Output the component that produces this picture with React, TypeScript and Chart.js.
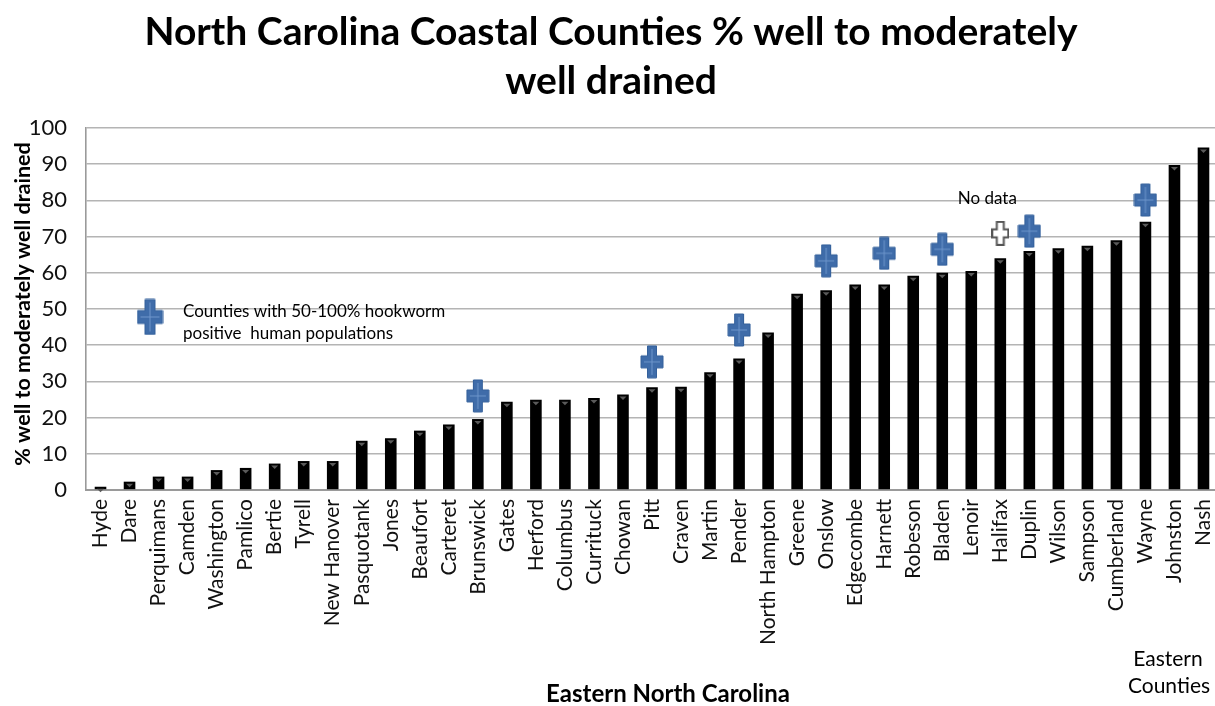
import React, { useEffect, useRef } from 'react';
import { Chart, registerables } from 'chart.js';

Chart.register(...registerables);

const counties = [
  'Hyde', 'Dare', 'Perquimans', 'Camden', 'Washington', 'Pamlico', 'Bertie', 'Tyrell',
  'New Hanover', 'Pasquotank', 'Jones', 'Beaufort', 'Carteret', 'Brunswick', 'Gates',
  'Herford', 'Columbus', 'Currituck', 'Chowan', 'Pitt', 'Craven', 'Martin', 'Pender',
  'North Hampton', 'Greene', 'Onslow', 'Edgecombe', 'Harnett', 'Robeson', 'Bladen',
  'Lenoir', 'Halifax', 'Duplin', 'Wilson', 'Sampson', 'Cumberland', 'Wayne', 'Johnston', 'Nash',
];
const drainedPct = [
  0.9, 2.3, 3.7, 3.7, 5.5, 6.1, 7.3, 8.0,
  8.0, 13.6, 14.3, 16.4, 18.1, 19.6, 24.4,
  24.9, 24.9, 25.4, 26.4, 28.4, 28.5, 32.5, 36.3,
  43.5, 54.2, 55.2, 56.8, 56.8, 59.2, 60.0,
  60.5, 64.0, 66.0, 66.8, 67.5, 69.0, 74.1, 89.8, 94.6,
];
const hookwormCounties = ['Brunswick', 'Pitt', 'Pender', 'Onslow', 'Harnett', 'Bladen', 'Duplin', 'Wayne'];
const hookwormMarkerY = [26, 35.4, 44.2, 63.3, 65.4, 66.5, 71.5, 80.1];
const noDataCounties = ['Halifax'];
const noDataMarkerY = [70.9];
const yTickValues = [0, 10, 20, 30, 40, 50, 60, 70, 80, 90, 100];

const titleLines = ['North Carolina Coastal Counties % well to moderately', 'well drained'];
const yAxisTitle = '% well to moderately well drained';
const xAxisTitle = 'Eastern North Carolina';
const legendLines = ['Counties with 50-100% hookworm', 'positive  human populations'];
const noDataLabel = 'No data';
const cornerLabel = ['Eastern', 'Counties'];

const FONT = 'Lato, "Open Sans", sans-serif';

function makePlus(w: number, h: number, armW: number, armH: number, fill: string, stroke: string, inner: string | null, lw: number) {
  const c = document.createElement('canvas');
  c.width = w + 2;
  c.height = h + 2;
  const ctx = c.getContext('2d')!;
  const ox = 1, oy = 1;
  const vx = ox + (w - armW) / 2;
  const hy = oy + (h - armH) / 2;
  ctx.beginPath();
  ctx.moveTo(vx, oy);
  ctx.lineTo(vx + armW, oy);
  ctx.lineTo(vx + armW, hy);
  ctx.lineTo(ox + w, hy);
  ctx.lineTo(ox + w, hy + armH);
  ctx.lineTo(vx + armW, hy + armH);
  ctx.lineTo(vx + armW, oy + h);
  ctx.lineTo(vx, oy + h);
  ctx.lineTo(vx, hy + armH);
  ctx.lineTo(ox, hy + armH);
  ctx.lineTo(ox, hy);
  ctx.lineTo(vx, hy);
  ctx.closePath();
  ctx.fillStyle = fill;
  ctx.fill();
  ctx.strokeStyle = stroke;
  ctx.lineWidth = lw;
  ctx.stroke();
  if (inner) {
    ctx.strokeStyle = inner;
    ctx.lineWidth = 1;
    ctx.beginPath();
    ctx.moveTo(ox + w / 2, oy + 3);
    ctx.lineTo(ox + w / 2, oy + h - 3);
    ctx.moveTo(ox + 3, oy + h / 2);
    ctx.lineTo(ox + w - 3, oy + h / 2);
    ctx.stroke();
  }
  return c;
}

const PLOT_LEFT = 86;
const PLOT_RIGHT = 1218;

export default function App() {
  const ref = useRef<HTMLCanvasElement | null>(null);

  useEffect(() => {
    document.body.style.margin = '0';
    const canvas = ref.current!;
    const bluePlus = makePlus(22, 32, 9, 12, '#3f6ca9', '#34609b', '#6f96cc', 1);
    const legendPlus = makePlus(25, 35, 10, 13, '#3f6ca9', '#34609b', '#6f96cc', 1);
    const grayPlus = makePlus(16, 23, 7, 8, '#ffffff', '#555555', null, 2);

    const annotations = {
      id: 'annotations',
      afterLayout(chart: any) {
        const area = chart.chartArea;
        area.left = PLOT_LEFT;
        area.right = PLOT_RIGHT;
        area.width = PLOT_RIGHT - PLOT_LEFT;
        const x = chart.scales.x;
        x.left = PLOT_LEFT;
        x.right = PLOT_RIGHT;
        x.width = PLOT_RIGHT - PLOT_LEFT;
        x.configure();
      },
      afterDatasetsDraw(chart: any) {
        const ctx = chart.ctx;
        const meta = chart.getDatasetMeta(0);
        ctx.save();
        ctx.fillStyle = '#5a5a5a';
        meta.data.forEach((bar: any) => {
          const x = bar.x;
          const y = bar.y;
          ctx.beginPath();
          ctx.moveTo(x - 3.5, y + 2);
          ctx.lineTo(x + 3.5, y + 2);
          ctx.lineTo(x, y + 5.5);
          ctx.closePath();
          ctx.fill();
        });
        ctx.restore();
      },
      afterDraw(chart: any) {
        const ctx = chart.ctx;
        const area = chart.chartArea;
        const yS = chart.scales.y;
        const xS = chart.scales.x;
        ctx.save();
        ctx.fillStyle = '#000';
        ctx.textAlign = 'center';
        ctx.textBaseline = 'alphabetic';
        ctx.font = `bold 39px ${FONT}`;
        ctx.fillText(titleLines[0], 611, 45);
        ctx.fillText(titleLines[1], 611, 94);

        ctx.textBaseline = 'middle';
        // y title
        ctx.save();
        ctx.translate(23, (area.top + area.bottom) / 2 - 5);
        ctx.rotate(-Math.PI / 2);
        ctx.font = `bold 21.5px ${FONT}`;
        ctx.fillText(yAxisTitle, 0, 0);
        ctx.restore();

        // x title
        ctx.font = `bold 24px ${FONT}`;
        ctx.fillText(xAxisTitle, 668, 694);

        // corner label
        ctx.font = `21px ${FONT}`;
        ctx.fillText(cornerLabel[0], 1168, 659);
        ctx.fillText(cornerLabel[1], 1169, 686);

        // legend
        const ly = yS.getPixelForValue(47.8);
        ctx.drawImage(legendPlus, 150 - legendPlus.width / 2, ly - legendPlus.height / 2);
        ctx.textAlign = 'left';
        ctx.font = `17px ${FONT}`;
        ctx.fillText(legendLines[0], 183, 312);
        ctx.fillText(legendLines[1], 183, 334);

        // No data label
        ctx.textAlign = 'center';
        const hx = xS.getPixelForValue(counties.indexOf(noDataCounties[0]));
        ctx.fillText(noDataLabel, hx - 13, yS.getPixelForValue(80.5));
        ctx.restore();
      },
    };

    const chart = new Chart(canvas, {
      type: 'bar',
      data: {
        labels: counties,
        datasets: [
          {
            type: 'bar',
            label: '% well to moderately well drained',
            data: drainedPct,
            backgroundColor: '#000000',
            borderColor: '#000000',
            borderWidth: 0,
            barPercentage: 0.4,
            categoryPercentage: 1,
            order: 2,
          } as any,
          {
            type: 'line',
            label: 'Hookworm 50-100%',
            data: hookwormCounties.map((c, i) => ({ x: c, y: hookwormMarkerY[i] })),
            showLine: false,
            pointStyle: bluePlus,
            pointRadius: 12,
            order: 1,
          } as any,
          {
            type: 'line',
            label: 'No data',
            data: noDataCounties.map((c, i) => ({ x: c, y: noDataMarkerY[i] })),
            showLine: false,
            pointStyle: grayPlus,
            pointRadius: 10,
            order: 1,
          } as any,
        ],
      },
      options: {
        responsive: false,
        animation: false,
        layout: { padding: { top: 128, left: 0, right: 0, bottom: 0 } },
        plugins: {
          legend: { display: false },
          title: { display: false },
          tooltip: { enabled: false },
        },
        scales: {
          x: {
            grid: { display: false, drawTicks: false },
            border: { display: true, color: '#9a9a9a', width: 2 },
            ticks: {
              minRotation: 90,
              maxRotation: 90,
              autoSkip: false,
              padding: 9,
              color: '#111',
              font: { family: FONT, size: 21 },
            },
            afterFit(scale: any) {
              scale.height = 216;
              scale.paddingLeft = 0;
              scale.paddingRight = 0;
            },
          },
          y: {
            min: 0,
            max: 100,
            afterBuildTicks(scale: any) {
              scale.ticks = yTickValues.map((v) => ({ value: v }));
            },
            grid: { color: '#b4b4b4', lineWidth: 1.6, drawTicks: false },
            border: { display: true, color: '#9a9a9a', width: 1.6 },
            ticks: {
              padding: 19,
              color: '#111',
              font: { family: FONT, size: 22 },
            },
            afterFit(scale: any) {
              scale.width = 86;
            },
          },
        },
      },
      plugins: [annotations],
    } as any);

    return () => chart.destroy();
  }, []);

  return <canvas ref={ref} width={1215} height={706} style={{ display: 'block' }} />;
}
